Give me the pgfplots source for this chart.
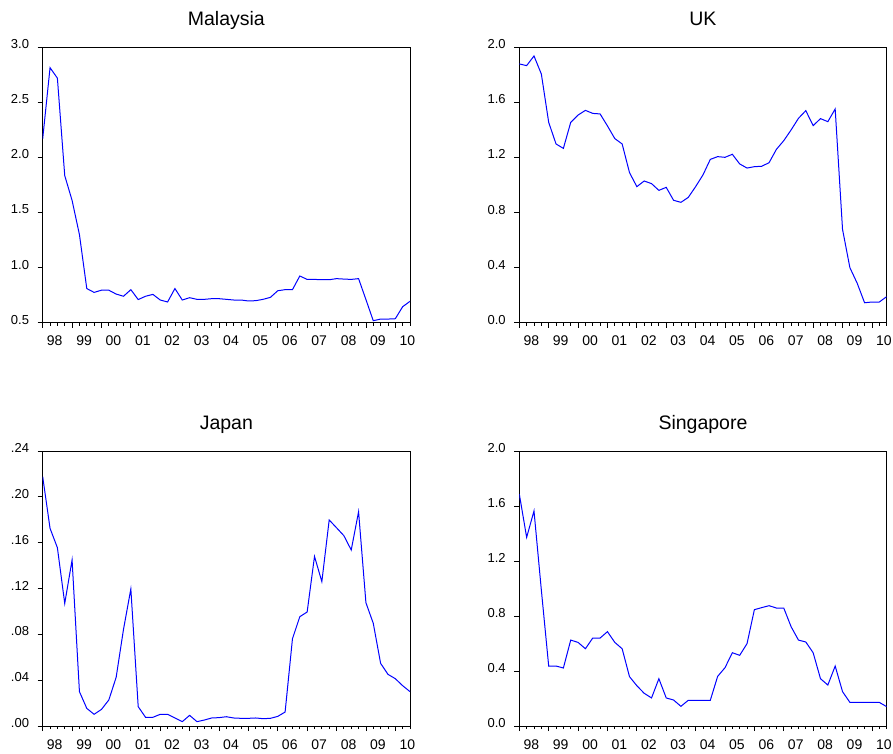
\documentclass[border=0pt]{standalone}
\usepackage{pgfplots}
\pgfplotsset{compat=1.18}
\usepackage{fontspec}
\setmainfont{Liberation Sans}
\definecolor{evblue}{RGB}{0,0,255}
\pgfplotsset{
  panel/.style={
    scale only axis,
    width=367.3pt,
    anchor=south west,
    xmin=0, xmax=50,
    axis line style={line width=1pt, black},
    tick align=outside,
    tick style={black, line width=0.8pt},
    major tick length=5pt,
    minor tick length=3pt,
    xtick={0,4,...,48},
    minor xtick={0,1,...,50},
    xticklabels={98,99,00,01,02,03,04,05,06,07,08,09,10},
    xtick pos=bottom, ytick pos=left,
    xticklabel style={font=\fontsize{14}{14}\selectfont, anchor=base, xshift=12pt, yshift=-18pt, inner sep=0pt},
    yticklabel style={font=\fontsize{13}{13}\selectfont, anchor=east, xshift=-8.5pt, yshift=3pt, inner sep=0pt},
    title style={font=\fontsize{19.5}{19.5}\selectfont, at={(0.5,1)}, anchor=base, yshift=15.5pt, inner sep=0pt},
    every axis plot/.style={evblue, line width=1pt, no markers},
    clip=true,
  }
}
\begin{document}
\begin{tikzpicture}[x=1pt,y=1pt]
\path (0,0) rectangle (893,753);
% Malaysia
\begin{axis}[panel, at={(42.7pt,430.3pt)}, height=275.4pt,
  title={Malaysia}, ymin=0.5, ymax=3.0,
  ytick={0.5,1.0,1.5,2.0,2.5,3.0}, yticklabels={0.5,1.0,1.5,2.0,2.5,3.0}]
\addplot coordinates {
(0,2.17) (1,2.815) (2,2.72) (3,1.835) (4,1.61) (5,1.30) (6,0.81) (7,0.775) (8,0.795) (9,0.795)
(10,0.76) (11,0.74) (12,0.80) (13,0.71) (14,0.74) (15,0.757) (16,0.706) (17,0.688) (18,0.81) (19,0.706)
(20,0.727) (21,0.712) (22,0.712) (23,0.718) (24,0.718) (25,0.712) (26,0.706) (27,0.706) (28,0.697) (29,0.70)
(30,0.712) (31,0.73) (32,0.79) (33,0.80) (34,0.80) (35,0.924) (36,0.893) (37,0.893) (38,0.89) (39,0.89)
(40,0.90) (41,0.896) (42,0.893) (43,0.90) (44,0.71) (45,0.518) (46,0.533) (47,0.533) (48,0.536) (49,0.645)
(50,0.694)};
\end{axis}
% UK
\begin{axis}[panel, at={(519.3pt,430.3pt)}, height=275.4pt,
  title={UK}, ymin=0, ymax=2.0,
  ytick={0,0.4,0.8,1.2,1.6,2.0}, yticklabels={0.0,0.4,0.8,1.2,1.6,2.0}]
\addplot coordinates {
(0,1.879) (1,1.867) (2,1.937) (3,1.806) (4,1.455) (5,1.298) (6,1.266) (7,1.455) (8,1.508) (9,1.542)
(10,1.52) (11,1.516) (12,1.429) (13,1.337) (14,1.298) (15,1.09) (16,0.988) (17,1.029) (18,1.01) (19,0.961)
(20,0.983) (21,0.889) (22,0.874) (23,0.91) (24,0.988) (25,1.073) (26,1.186) (27,1.206) (28,1.201) (29,1.223)
(30,1.153) (31,1.123) (32,1.133) (33,1.136) (34,1.162) (35,1.259) (36,1.322) (37,1.40) (38,1.484) (39,1.54)
(40,1.431) (41,1.482) (42,1.46) (43,1.552) (44,0.678) (45,0.40) (46,0.286) (47,0.145) (48,0.15) (49,0.15)
(50,0.189)};
\end{axis}
% Japan
\begin{axis}[panel, at={(42.7pt,27pt)}, height=275pt,
  title={Japan}, ymin=0, ymax=0.24,
  ytick={0,0.04,0.08,0.12,0.16,0.20,0.24}, yticklabels={.00,.04,.08,.12,.16,.20,.24}]
\addplot coordinates {
(0,0.2176) (1,0.1725) (2,0.1556) (3,0.107) (4,0.1449) (5,0.030) (6,0.0154) (7,0.0102) (8,0.0145) (9,0.0227)
(10,0.0425) (11,0.0844) (12,0.1196) (13,0.0169) (14,0.0076) (15,0.0076) (16,0.0102) (17,0.0102) (18,0.007) (19,0.0038)
(20,0.0093) (21,0.0038) (22,0.0052) (23,0.007) (24,0.0073) (25,0.0081) (26,0.007) (27,0.0067) (28,0.0067) (29,0.007)
(30,0.0064) (31,0.0067) (32,0.0084) (33,0.0122) (34,0.0762) (35,0.0954) (36,0.0995) (37,0.148) (38,0.126) (39,0.1798)
(40,0.173) (41,0.1661) (42,0.1536) (43,0.187) (44,0.1076) (45,0.0896) (46,0.0547) (47,0.0451) (48,0.0413) (49,0.0352)
(50,0.030)};
\end{axis}
% Singapore
\begin{axis}[panel, at={(519.3pt,27pt)}, height=275pt,
  title={Singapore}, ymin=0, ymax=2.0,
  ytick={0,0.4,0.8,1.2,1.6,2.0}, yticklabels={0.0,0.4,0.8,1.2,1.6,2.0}]
\addplot coordinates {
(0,1.687) (1,1.372) (2,1.564) (3,0.989) (4,0.436) (5,0.436) (6,0.422) (7,0.625) (8,0.608) (9,0.562)
(10,0.64) (11,0.64) (12,0.686) (13,0.608) (14,0.562) (15,0.359) (16,0.293) (17,0.238) (18,0.204) (19,0.344)
(20,0.204) (21,0.189) (22,0.143) (23,0.187) (24,0.187) (25,0.187) (26,0.187) (27,0.361) (28,0.424) (29,0.533)
(30,0.514) (31,0.599) (32,0.846) (33,0.861) (34,0.875) (35,0.858) (36,0.858) (37,0.722) (38,0.625) (39,0.611)
(40,0.533) (41,0.344) (42,0.298) (43,0.436) (44,0.25) (45,0.172) (46,0.172) (47,0.172) (48,0.172) (49,0.172)
(50,0.141)};
\end{axis}
\end{tikzpicture}
\end{document}
